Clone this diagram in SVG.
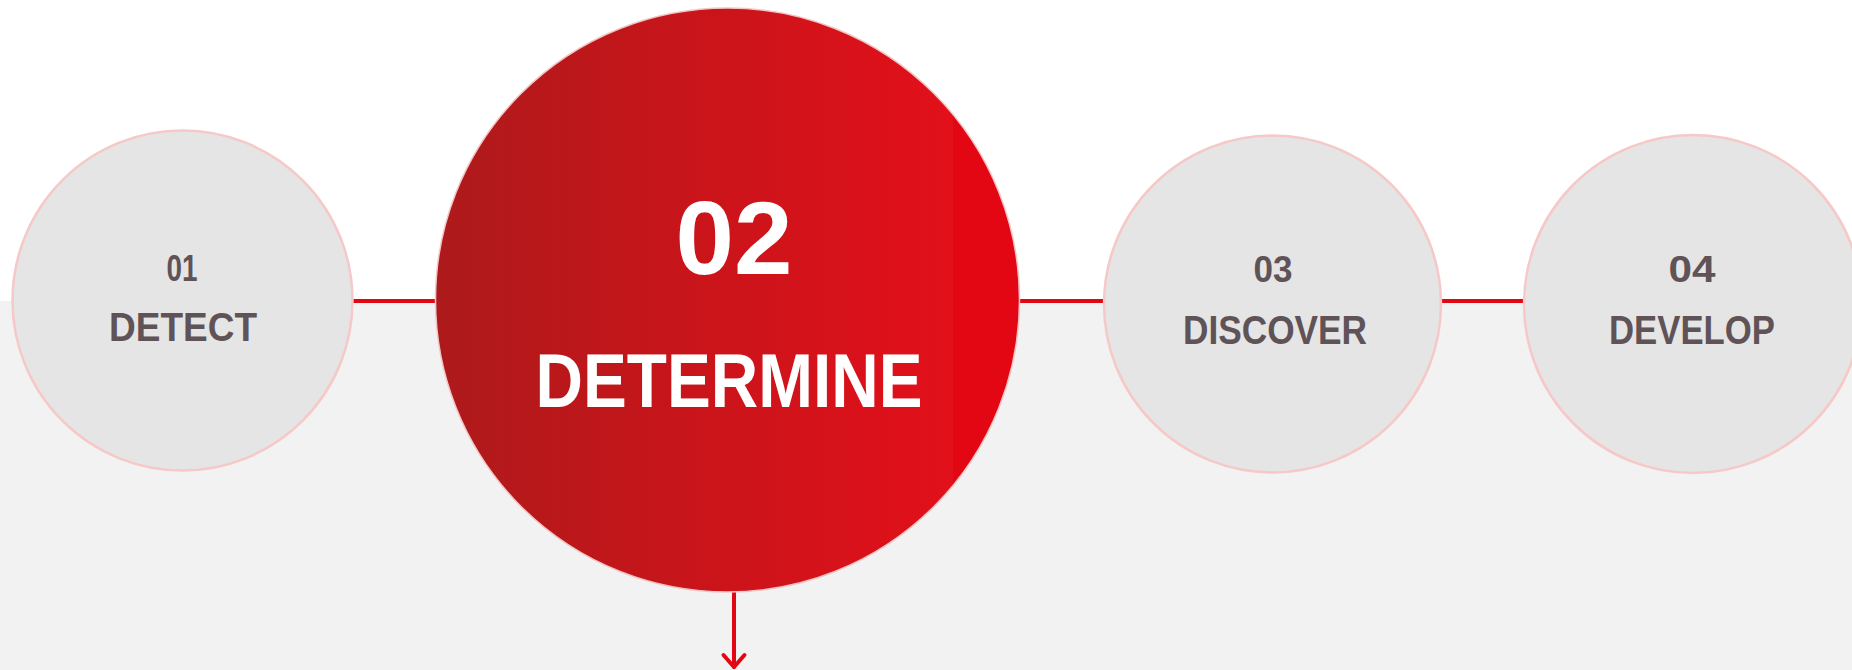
<svg xmlns="http://www.w3.org/2000/svg" width="1852" height="670" viewBox="0 0 1852 670">
  <style>
    .small { fill: #e5e5e5; stroke: #f6c8c8; stroke-width: 2.5; }
    .big { stroke: #f2c4c4; stroke-width: 1.5; }
    .num { font-family: "Liberation Sans", Arial, sans-serif; font-size: 37px; font-weight: bold; fill: #5f5358; text-anchor: middle; }
    .lbl { font-family: "Liberation Sans", Arial, sans-serif; font-size: 40px; font-weight: bold; fill: #5f5358; text-anchor: middle; }
    .bnum { font-family: "Liberation Sans", Arial, sans-serif; font-size: 104px; font-weight: bold; fill: #ffffff; text-anchor: middle; }
    .blbl { font-family: "Liberation Sans", Arial, sans-serif; font-size: 76px; font-weight: bold; fill: #ffffff; text-anchor: middle; }
    .conn { stroke: #e30613; stroke-width: 4; fill: none; }
    .arrow { stroke: #e30613; stroke-width: 4; fill: none; stroke-linecap: round; stroke-linejoin: round; }
  </style>
  <defs>
    <linearGradient id="redGrad" gradientUnits="userSpaceOnUse" x1="435" y1="0" x2="1020" y2="0">
      <stop offset="0" stop-color="#ad1a1b"/>
      <stop offset="0.5" stop-color="#cc141a"/>
      <stop offset="0.885" stop-color="#e2101a"/>
      <stop offset="0.885" stop-color="#e30613"/>
      <stop offset="1" stop-color="#e30613"/>
    </linearGradient>
  </defs>
  <rect x="0" y="0" width="1852" height="670" fill="#ffffff"/>
  <rect x="0" y="301" width="1852" height="369" fill="#f2f2f2"/>
  <g id="connectors">
    <line class="conn" x1="352" y1="301" x2="437" y2="301"/>
    <line class="conn" x1="1019" y1="301" x2="1106" y2="301"/>
    <line class="conn" x1="1440" y1="301" x2="1525" y2="301"/>
    <line class="arrow" x1="734" y1="592" x2="734" y2="667"/>
    <polyline class="arrow" points="723.5,655 734,667 744.5,655"/>
  </g>
  <g id="node-detect">
    <circle class="small" cx="182.5" cy="300.5" r="170"/>
    <text class="num" x="182" y="281" textLength="31" lengthAdjust="spacingAndGlyphs">01</text>
    <text class="lbl" x="183" y="341" textLength="148" lengthAdjust="spacingAndGlyphs">DETECT</text>
  </g>
  <g id="node-determine">
    <circle class="big" cx="727.5" cy="300" r="292" fill="url(#redGrad)"/>
    <text class="bnum" x="734" y="274" textLength="117" lengthAdjust="spacingAndGlyphs">02</text>
    <text class="blbl" x="729" y="407" textLength="387" lengthAdjust="spacingAndGlyphs">DETERMINE</text>
  </g>
  <g id="node-discover">
    <circle class="small" cx="1272.5" cy="304" r="168.5"/>
    <text class="num" x="1273" y="282" textLength="39" lengthAdjust="spacingAndGlyphs">03</text>
    <text class="lbl" x="1275" y="344" textLength="184" lengthAdjust="spacingAndGlyphs">DISCOVER</text>
  </g>
  <g id="node-develop">
    <circle class="small" cx="1693" cy="304" r="169"/>
    <text class="num" x="1692" y="282" textLength="47" lengthAdjust="spacingAndGlyphs">04</text>
    <text class="lbl" x="1692" y="344" textLength="166" lengthAdjust="spacingAndGlyphs">DEVELOP</text>
  </g>
</svg>
